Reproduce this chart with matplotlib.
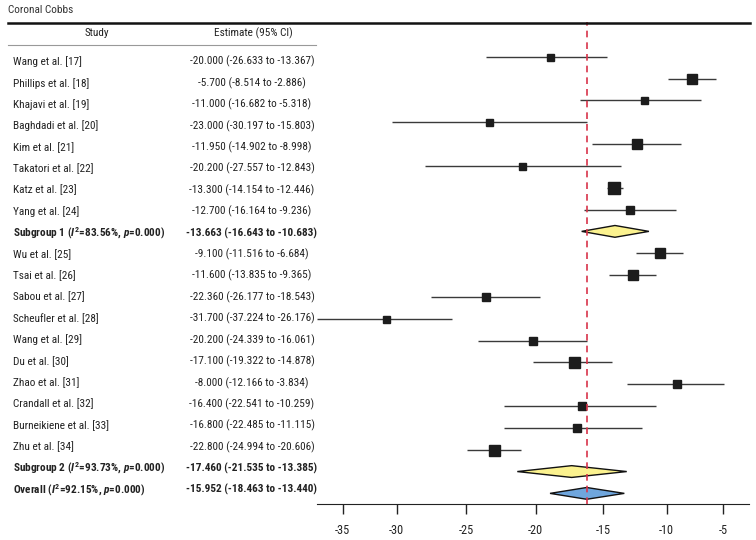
import numpy as np
import matplotlib
matplotlib.use("Agg")
import matplotlib.pyplot as plt
from matplotlib import font_manager as fm
from matplotlib.lines import Line2D
from matplotlib.patches import Polygon
from matplotlib.transforms import blended_transform_factory

# pick a condensed face if one is installed, else a plain sans at a smaller size
cond = [f for f in fm.fontManager.ttflist
        if ('Condensed' in f.name or 'Narrow' in f.name
            or f.stretch in ('condensed', 'semi-condensed'))
        and f.style == 'normal']
cond.sort(key=lambda f: (0 if 'Roboto' in f.name else 1 if 'Liberation' in f.name else 2,
                         0 if f.stretch == 'condensed' else 1))
if cond:
    fam, stretch, fs, tfs = cond[0].name, cond[0].stretch, 8.1, 8.8
else:
    fam, stretch, fs, tfs = 'Liberation Sans', 'normal', 7, 8

plt.rcParams['font.family'] = [fam, 'DejaVu Sans']
plt.rcParams['font.stretch'] = stretch
plt.rcParams['mathtext.fontset'] = 'custom'
plt.rcParams['mathtext.it'] = fam + ':italic:bold'
plt.rcParams['mathtext.rm'] = fam + ':bold'
plt.rcParams['mathtext.bf'] = fam + ':bold'

# Table text
studies = [
    "Wang et al. [17]", "Phillips et al. [18]", "Khajavi et al. [19]",
    "Baghdadi et al. [20]", "Kim et al. [21]", "Takatori et al. [22]",
    "Katz et al. [23]", "Yang et al. [24]",
    r"Subgroup 1 ($\mathit{I}^2$=83.56%, $\mathit{p}$=0.000)",
    "Wu et al. [25]", "Tsai et al. [26]", "Sabou et al. [27]",
    "Scheufler et al. [28]", "Wang et al. [29]", "Du et al. [30]",
    "Zhao et al. [31]", "Crandall et al. [32]", "Burneikiene et al. [33]",
    "Zhu et al. [34]",
    r"Subgroup 2 ($\mathit{I}^2$=93.73%, $\mathit{p}$=0.000)",
    r"Overall ($\mathit{I}^2$=92.15%, $\mathit{p}$=0.000)",
]
estimates = [
    "-20.000 (-26.633 to -13.367)", "-5.700 (-8.514 to -2.886)",
    "-11.000 (-16.682 to -5.318)", "-23.000 (-30.197 to -15.803)",
    "-11.950 (-14.902 to -8.998)", "-20.200 (-27.557 to -12.843)",
    "-13.300 (-14.154 to -12.446)", "-12.700 (-16.164 to -9.236)",
    "-13.663 (-16.643 to -10.683)",
    "-9.100 (-11.516 to -6.684)", "-11.600 (-13.835 to -9.365)",
    "-22.360 (-26.177 to -18.543)", "-31.700 (-37.224 to -26.176)",
    "-20.200 (-24.339 to -16.061)", "-17.100 (-19.322 to -14.878)",
    "-8.000 (-12.166 to -3.834)", "-16.400 (-22.541 to -10.259)",
    "-16.800 (-22.485 to -11.115)", "-22.800 (-24.994 to -20.606)",
    "-17.460 (-21.535 to -13.385)",
    "-15.952 (-18.463 to -13.440)",
]
pooled = [8, 19, 20]

# Marks as drawn in the picture
point = [-18.94, -7.74, -11.77, -23.37, -12.32, -21.0, -14.16, -12.89,
         -14.08, -10.53, -12.68, -23.57, -30.99, -20.17, -17.14, -9.12,
         -16.6, -16.97, -23.01, -17.34, -16.23]
ci_low = [-23.57, -9.86, -16.72, -30.44, -15.86, -27.96, -14.73, -16.43,
          -16.6, -12.42, -14.55, -27.55, -37.35, -24.12, -20.17, -13.11,
          -22.25, -22.25, -24.93, -21.32, -18.94]
ci_high = [-14.73, -5.67, -6.97, -16.23, -8.74, -13.63, -13.42, -9.2,
           -11.4, -8.53, -10.84, -19.68, -26.03, -16.23, -14.29, -4.94,
           -10.84, -11.92, -21.08, -13.15, -13.34]
box_px = [7, 10, 7, 7, 10.5, 7, 12, 8, 0, 10, 10, 8, 7, 8, 11, 8, 8, 8, 11, 0, 0]
overall_line = -16.23
xticks = [-35, -30, -25, -20, -15, -10, -5]

# the axis in the picture is not evenly spaced
knot_v = [-40, -35, -30, -25, -20, -15, -10, -5, 0]
knot_p = [288.7, 342.7, 396.7, 466.0, 535.7, 603.3, 666.7, 723.3, 779.9]


def fwd(v):
    return np.interp(v, knot_v, knot_p)


def inv(p):
    return np.interp(p, knot_p, knot_v)


fig = plt.figure(figsize=(7.56, 5.4), dpi=100)
W, H = 756, 540
ax = fig.add_axes([316.7 / W, 1 - 504.3 / H, 432.6 / W, (504.3 - 22) / H])
ax.set_xscale('function', functions=(fwd, inv))
ax.set_xlim(-37.41, -2.70)
n = len(studies)
row_px = 21.83
ax.set_ylim(20.5, -1.59)

ink = '#1c1c1c'
for i in range(n):
    if i in pooled:
        h = 0.27
        color = '#6fa6dd' if i == 20 else '#fbf28f'
        poly = Polygon([(ci_low[i], i), (point[i], i - h), (ci_high[i], i),
                        (point[i], i + h)], closed=True, facecolor=color,
                       edgecolor='#111111', lw=1, zorder=3)
        ax.add_patch(poly)
    else:
        ax.hlines(i, ci_low[i], ci_high[i], color='#3a3a3a', lw=1, zorder=2)
        ax.plot(point[i], i, 's', ms=box_px[i] * 0.72, color=ink,
                mec=ink, zorder=4)

ax.axvline(overall_line, color='#d8344a', ls=(0, (4, 3)), lw=1.2, zorder=5)

for s in ['top', 'left', 'right']:
    ax.spines[s].set_visible(False)
ax.spines['bottom'].set_color('#222222')
ax.set_yticks([])
ax.set_xticks(xticks)
ax.set_xticklabels([str(t) for t in xticks])
ax.tick_params(axis='x', length=7, width=1, color='#222222', pad=7,
               labelsize=tfs, labelcolor='#222222')
ax.patch.set_alpha(0)

# Table (its rows sit a little apart from the plot rows, as in the picture)
trans = blended_transform_factory(fig.transFigure, ax.transData)
for i in range(n):
    w = 'bold' if i in pooled else 'normal'
    ty = (61.7 + 21.4 * i - 56.7) / row_px
    ax.text(13 / W, ty, studies[i], transform=trans, ha='left', va='center',
            fontsize=fs, color='#222222', fontweight=w)
    ax.text(252 / W, ty, estimates[i], transform=trans, ha='center',
            va='center', fontsize=fs, color='#222222', fontweight=w)

hy = (33 - 56.7) / row_px
ax.text(97 / W, hy, "Study", transform=trans, ha='center', va='center',
        fontsize=fs, color='#222222')
ax.text(253 / W, hy, "Estimate (95% CI)", transform=trans, ha='center',
        va='center', fontsize=fs, color='#222222')

fig.text(8 / W, 1 - 10 / H, "Coronal Cobbs", ha='left', va='center',
         fontsize=fs, color='#333333')
fig.add_artist(Line2D([8 / W, 750 / W], [1 - 22.7 / H] * 2, color='#111111',
                      lw=1.8))
fig.add_artist(Line2D([8 / W, 316 / W], [1 - 45 / H] * 2, color='#999999',
                      lw=0.8))

plt.savefig("out.png", dpi=100)
